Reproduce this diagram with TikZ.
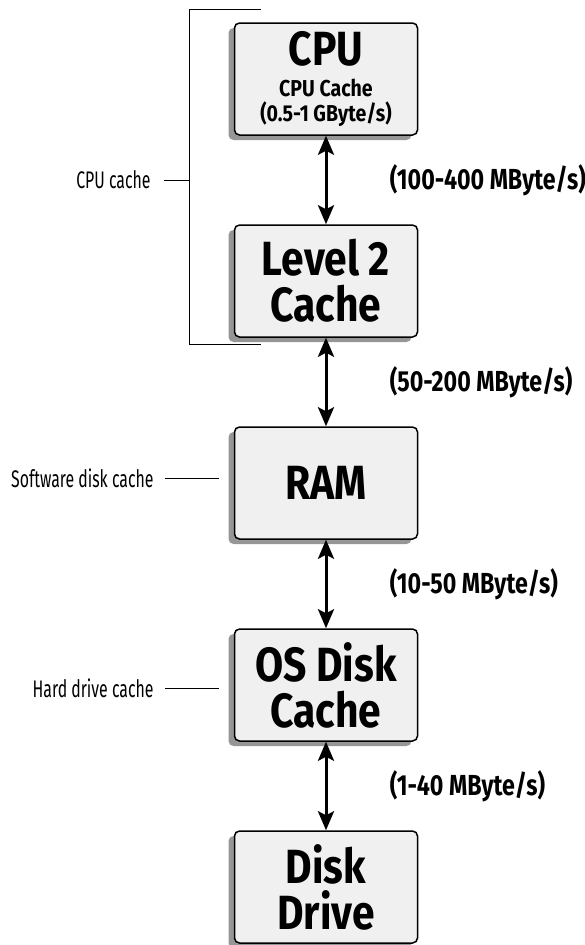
\documentclass[tikz,border=0pt]{standalone}
\usepackage{fontspec}
\setmainfont{Fira Sans}
\newfontfamily\headfont[FakeStretch=0.85]{Fira Sans}
\newfontfamily\ratefont[FakeStretch=0.8]{Fira Sans}
\newfontfamily\sidefont[FakeStretch=0.66]{Fira Sans}
\usetikzlibrary{positioning,chains,shadows,arrows.meta}
\definecolor{boxfill}{RGB}{240,240,240}
\definecolor{shadowgray}{RGB}{150,150,150}
\tikzset{tick/.style={line width=1pt}}
\newcommand\smallhead{\fontsize{23}{26}\selectfont}

\begin{document}
\begin{tikzpicture}[level/.style={
					rectangle,
					draw,
					line width=1.5pt,
					rounded corners=5pt,
					fill=boxfill,
					minimum width=183pt,
					minimum height=112pt,
					inner sep=0pt,
					align=center,
					drop shadow={shadow xshift=-6pt,shadow yshift=-5pt,fill=shadowgray,opacity=1},
					font=\headfont\bfseries\fontsize{48}{46}\selectfont
				},
			link/.style={line width=3pt,{Stealth[length=19pt,width=16pt,inset=4pt]}-{Stealth[length=19pt,width=16pt,inset=4pt]}},
			rate/.style={anchor=west,xshift=59pt,font=\ratefont\bfseries\fontsize{29}{32}\selectfont},
			side/.style={inner sep=0pt,font=\sidefont\fontsize{24}{28}\selectfont},
			start chain=going below,
			node distance=88.5pt]
		\useasboundingbox (0,0) rectangle (584pt,-945pt);

		\node[level,on chain] (cpu) at (326pt,-79pt) {CPU\\[-15pt]\smallhead CPU Cache\\[-21pt]\smallhead (0.5-1 GByte/s)};
		\node[level,on chain] (l2) {Level 2\\Cache};
		\node[level,on chain] (ram) {RAM};
		\node[level,on chain] (osc) {OS Disk\\Cache};
		\node[level,on chain] (disk) {Disk\\Drive};

		\draw[link] (cpu) -- node[rate] (r1) {(100-400 MByte/s)} (l2);
		\draw[link] (l2) -- node[rate] (r2) {(50-200 MByte/s)} (ram);
		\draw[link] (ram) -- node[rate] (r3) {(10-50 MByte/s)} (osc);
		\draw[link] (osc) -- node[rate] (r4) {(1-40 MByte/s)} (disk);

		% bracket round the two cpu levels
		\coordinate (btop) at ([xshift=-44pt,yshift=13pt]cpu.north west);
		\coordinate (bbot) at ([xshift=-44pt,yshift=-7pt]l2.south west);
		\draw[tick] ([xshift=71pt]btop) -- (btop) -- (bbot) -- ([xshift=71pt]bbot);
		\coordinate (bmid) at (btop |- r1);

		\node[side,left=39pt of bmid] (cpuc) {CPU cache};
		\node[side,left=80pt of ram,yshift=5pt] (swc) {Software disk cache};
		\node[side,left=80pt of osc,yshift=-3pt] (hdc) {Hard drive cache};
		\draw[tick,shorten <=13pt] (cpuc.east) -- (bmid);
		\draw[tick,shorten <=11pt,shorten >=15pt] (swc.east) -- (swc.east -| ram.west);
		\draw[tick,shorten <=11pt,shorten >=15pt] (hdc.east) -- (hdc.east -| osc.west);
	\end{tikzpicture}
\end{document}
